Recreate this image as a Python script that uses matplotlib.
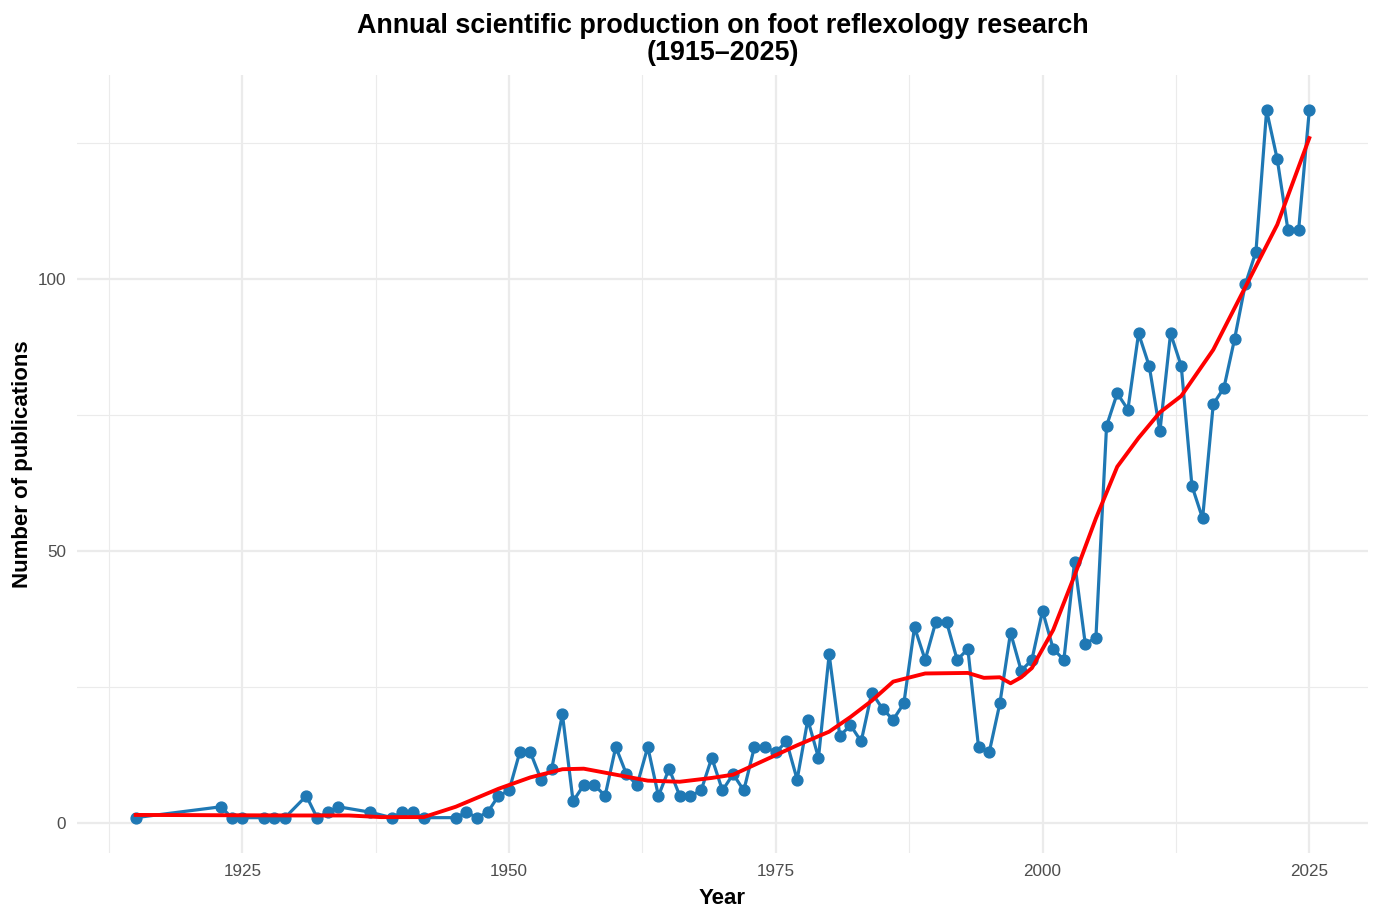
import numpy as np
import matplotlib
matplotlib.use("Agg")
import matplotlib.pyplot as plt

# yearly publication counts
years = [1915, 1923, 1924, 1925, 1927, 1928, 1929, 1931, 1932, 1933, 1934, 1937,
         1939, 1940, 1941, 1942, 1945, 1946, 1947, 1948, 1949, 1950, 1951, 1952,
         1953, 1954, 1955, 1956, 1957, 1958, 1959, 1960, 1961, 1962, 1963, 1964,
         1965, 1966, 1967, 1968, 1969, 1970, 1971, 1972, 1973, 1974, 1975, 1976,
         1977, 1978, 1979, 1980, 1981, 1982, 1983, 1984, 1985, 1986, 1987, 1988,
         1989, 1990, 1991, 1992, 1993, 1994, 1995, 1996, 1997, 1998, 1999, 2000,
         2001, 2002, 2003, 2004, 2005, 2006, 2007, 2008, 2009, 2010, 2011, 2012,
         2013, 2014, 2015, 2016, 2017, 2018, 2019, 2020, 2021, 2022, 2023, 2024,
         2025]
counts = [1, 3, 1, 1, 1, 1, 1, 5, 1, 2, 3, 2,
          1, 2, 2, 1, 1, 2, 1, 2, 5, 6, 13, 13,
          8, 10, 20, 4, 7, 7, 5, 14, 9, 7, 14, 5,
          10, 5, 5, 6, 12, 6, 9, 6, 14, 14, 13, 15,
          8, 19, 12, 31, 16, 18, 15, 24, 21, 19, 22, 36,
          30, 37, 37, 30, 32, 14, 13, 22, 35, 28, 30, 39,
          32, 30, 48, 33, 34, 73, 79, 76, 90, 84, 72, 90,
          84, 62, 56, 77, 80, 89, 99, 105, 131, 122, 109, 109,
          131]

# smoothed trend (red)
trend_years = [1915, 1930, 1935, 1938, 1942, 1945, 1949, 1952, 1955, 1957, 1960,
               1963, 1966, 1969, 1971, 1974, 1977, 1980, 1982, 1984, 1986, 1989,
               1993, 1994.5, 1996, 1997, 1998, 1999, 2001, 2003, 2005, 2007, 2009,
               2011, 2013, 2016, 2019, 2022, 2025]
trend_vals = [1.5, 1.4, 1.4, 1.1, 1.1, 3.0, 6.3, 8.4, 9.9, 10.0, 8.9,
              7.8, 7.6, 8.3, 8.9, 11.6, 14.3, 16.8, 19.5, 22.5, 26.0, 27.5,
              27.6, 26.7, 26.8, 25.7, 26.8, 28.5, 35.5, 45.5, 56.0, 65.5, 70.8,
              75.5, 78.5, 87.0, 98.5, 110.0, 125.9]

plt.rcParams['font.family'] = ['Liberation Sans', 'DejaVu Sans']

fig = plt.figure(figsize=(13.79, 9.19), dpi=100)
ax = fig.add_axes([0.0558, 0.0718, 0.9362, 0.8466])

ax.plot(years, counts, color='#1f78b4', lw=2.3, marker='o', ms=7.8, zorder=3)
ax.plot(trend_years, trend_vals, color='#ff0000', lw=2.8, zorder=4)

ax.set_xlim(1909.5, 2030.5)
ax.set_ylim(-5.5, 137.5)
ax.set_xticks([1925, 1950, 1975, 2000, 2025])
ax.set_yticks([0, 50, 100])
ax.set_xticks([1912.5, 1937.5, 1962.5, 1987.5, 2012.5], minor=True)
ax.set_yticks([25, 75, 125], minor=True)
ax.grid(which='major', color='#ebebeb', lw=1.6)
ax.grid(which='minor', color='#ebebeb', lw=0.8)
ax.set_axisbelow(True)
for s in ax.spines.values():
    s.set_visible(False)
ax.tick_params(which='both', length=0, labelsize=12.3, labelcolor='#4d4d4d', pad=8)

ax.set_xlabel('Year', fontsize=16, fontweight='bold', labelpad=6.5)
ax.set_ylabel('Number of publications', fontsize=16, fontweight='bold', labelpad=3)
ax.set_title('Annual scientific production on foot reflexology research\n(1915\u20132025)',
             fontsize=19.4, fontweight='bold', pad=11, linespacing=1.05)

fig.savefig('out.png', dpi=100)
